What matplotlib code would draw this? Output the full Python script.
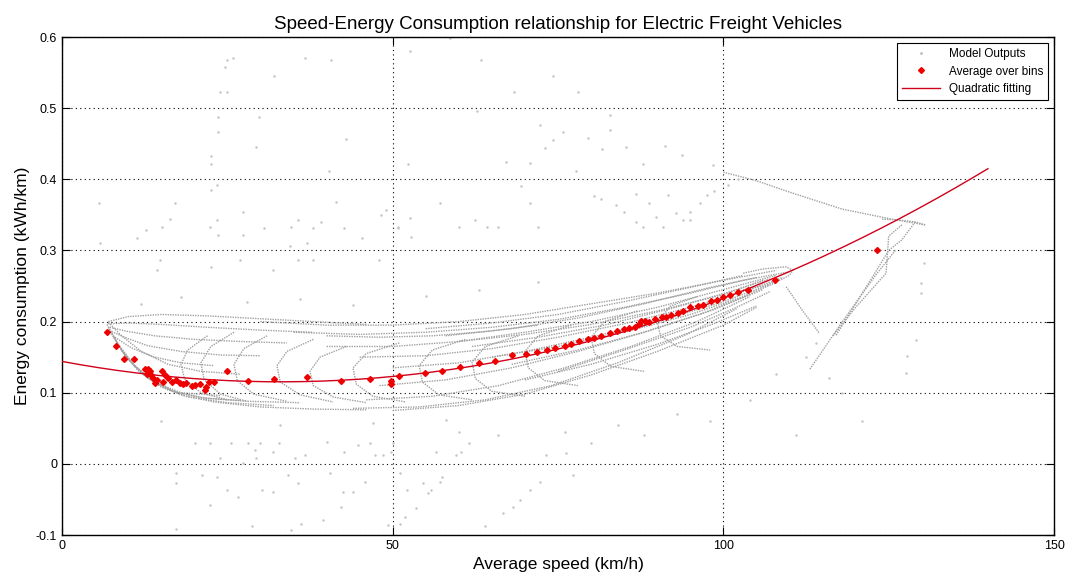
import matplotlib.pyplot as plt
import numpy as np
from matplotlib.lines import Line2D

plt.rcParams['font.family'] = ['Liberation Sans', 'DejaVu Sans']

# model output trajectories (speed km/h, energy kWh/km)
traj_speed = [
    [7, 10, 15, 22, 30, 38, 46],
    [7, 10, 15, 22, 30, 38],
    [7.2, 10, 14, 20, 27, 34],
    [7.5, 10, 13, 18, 24, 30],
    [8, 10.5, 14, 18, 23],
    [7, 9, 12, 16, 21, 27],
    [6.8, 8.5, 11, 14, 18, 23, 30, 38, 46],
    [7, 9, 11.5, 15, 19, 25, 32],
    [7.3, 9.5, 12.5, 16, 21, 27],
    [7.8, 10, 13, 17, 22, 28, 36],
    [9, 11, 14, 18, 24],
    [22, 19, 18, 18.5, 21, 25],
    [26, 22.5, 21, 21.5, 24, 28],
    [31, 27.5, 26, 26.5, 29, 34],
    [38, 34, 32.5, 33, 36, 41],
    [43, 39, 37.5, 38, 41, 46],
    [51, 46, 44, 44.5, 47, 52],
    [61, 56, 54, 54.5, 57, 62],
    [69, 64, 62, 62.5, 65, 70],
    [77, 72, 70, 70.5, 73, 78],
    [87, 82, 80, 80.5, 83, 88],
    [96, 92, 90, 90.5, 93, 98],
    [30, 40, 50, 60, 70, 80, 90, 100, 108],
    [35, 45, 55, 65, 75, 85, 95, 103, 110],
    [40, 50, 60, 70, 80, 90, 100, 108],
    [45, 55, 65, 75, 85, 95, 104, 109],
    [50, 60, 70, 80, 90, 100, 107],
    [48, 58, 68, 78, 88, 98, 106],
    [46, 56, 66, 76, 86, 96, 104],
    [44, 54, 64, 74, 84, 94, 102],
    [50, 60, 70, 80, 90, 100, 105],
    [55, 65, 75, 85, 95, 103],
    [60, 70, 80, 90, 100, 106],
    [65, 75, 85, 95, 103, 108],
    [70, 80, 90, 98, 105],
    [75, 85, 95, 102, 107],
    [58, 68, 78, 88, 98, 105],
    [62, 72, 82, 92, 101, 107],
    [68, 78, 88, 97, 104],
    [40, 48, 56, 64, 72],
    [103, 106, 109.5, 110.5, 110, 108.5, 106, 103],
    [100, 105, 110, 118, 126, 130.5],
    [124, 126.5, 129, 130.5],
    [129, 127, 125, 122.5, 120, 117],
    [127, 125, 124.6, 120, 116.5],
    [109.5, 112, 114.5],
    [126, 123, 118, 113],
]
traj_energy = [
    [0.200, 0.207, 0.210, 0.208, 0.204, 0.200, 0.196],
    [0.197, 0.198, 0.196, 0.192, 0.188, 0.185],
    [0.192, 0.186, 0.180, 0.175, 0.172, 0.170],
    [0.186, 0.176, 0.166, 0.158, 0.153, 0.152],
    [0.178, 0.163, 0.150, 0.142, 0.138],
    [0.199, 0.180, 0.158, 0.140, 0.130, 0.126],
    [0.196, 0.168, 0.138, 0.115, 0.097, 0.087, 0.080, 0.077, 0.076],
    [0.192, 0.160, 0.131, 0.108, 0.094, 0.086, 0.082],
    [0.186, 0.152, 0.124, 0.104, 0.093, 0.089],
    [0.178, 0.147, 0.120, 0.101, 0.092, 0.088, 0.086],
    [0.160, 0.137, 0.115, 0.100, 0.096],
    [0.180, 0.160, 0.140, 0.120, 0.100, 0.090],
    [0.185, 0.165, 0.142, 0.118, 0.098, 0.088],
    [0.180, 0.162, 0.140, 0.117, 0.098, 0.088],
    [0.175, 0.158, 0.138, 0.115, 0.097, 0.087],
    [0.165, 0.150, 0.130, 0.110, 0.094, 0.086],
    [0.170, 0.155, 0.135, 0.112, 0.095, 0.087],
    [0.175, 0.160, 0.138, 0.115, 0.097, 0.090],
    [0.180, 0.165, 0.143, 0.120, 0.102, 0.095],
    [0.195, 0.180, 0.158, 0.135, 0.117, 0.110],
    [0.215, 0.200, 0.178, 0.155, 0.137, 0.130],
    [0.235, 0.222, 0.200, 0.180, 0.165, 0.160],
    [0.200, 0.195, 0.195, 0.200, 0.210, 0.225, 0.240, 0.258, 0.272],
    [0.185, 0.182, 0.185, 0.192, 0.203, 0.220, 0.240, 0.258, 0.270],
    [0.165, 0.165, 0.172, 0.185, 0.200, 0.220, 0.245, 0.265],
    [0.150, 0.152, 0.162, 0.178, 0.197, 0.220, 0.245, 0.262],
    [0.135, 0.142, 0.158, 0.178, 0.200, 0.228, 0.252],
    [0.110, 0.118, 0.135, 0.158, 0.185, 0.215, 0.245],
    [0.090, 0.095, 0.110, 0.135, 0.165, 0.200, 0.235],
    [0.078, 0.080, 0.090, 0.110, 0.142, 0.180, 0.218],
    [0.075, 0.082, 0.098, 0.125, 0.158, 0.195, 0.220],
    [0.190, 0.198, 0.210, 0.228, 0.248, 0.265],
    [0.172, 0.182, 0.196, 0.215, 0.238, 0.258],
    [0.150, 0.165, 0.185, 0.210, 0.235, 0.255],
    [0.118, 0.140, 0.168, 0.195, 0.222],
    [0.130, 0.160, 0.192, 0.220, 0.242],
    [0.180, 0.190, 0.205, 0.225, 0.248, 0.262],
    [0.165, 0.178, 0.195, 0.218, 0.242, 0.260],
    [0.140, 0.160, 0.185, 0.212, 0.238],
    [0.180, 0.178, 0.180, 0.186, 0.195],
    [0.268, 0.274, 0.277, 0.272, 0.265, 0.258, 0.250, 0.245],
    [0.410, 0.398, 0.382, 0.358, 0.343, 0.336],
    [0.344, 0.343, 0.340, 0.336],
    [0.340, 0.315, 0.300, 0.262, 0.225, 0.180],
    [0.336, 0.320, 0.268, 0.220, 0.179],
    [0.249, 0.215, 0.184],
    [0.300, 0.265, 0.200, 0.132],
]

# isolated model outputs
out_speed = [25.9, 24.9, 24.6, 36.7, 40.7, 32.1, 23.9, 24.9, 23.6, 29.8, 23.6, 42.9, 29.4,
             22.5, 22.6, 40.4, 52.3, 52.6, 23.4, 22.6, 5.6, 17.1, 27.3, 41.4, 16.3, 23.4,
             35.7, 39.2, 48.3, 12.7, 15.1, 22.4, 30.5, 34.7, 38.0, 42.7, 50.8, 11.3, 5.7,
             23.6, 27.3, 34.5, 37.0, 45.3, 52.8, 14.8, 14.3, 22.6, 26.9, 31.9, 35.7, 38.0,
             48.0, 63.4, 74.2, 68.4, 78.0, 58.6, 62.7, 72.2, 75.7, 74.2, 73.0, 79.5, 82.9,
             82.9, 81.7, 85.3, 91.2, 93.8, 67.2, 70.8, 87.8, 77.7, 98.4, 100.7, 102.2, 69.4,
             57.1, 70.7, 80.5, 81.5, 83.8, 86.8, 88.8, 91.6, 85.0, 92.8, 94.9, 96.4, 97.6,
             98.6, 49.0, 52.6, 62.4, 86.8, 89.8, 93.9, 94.9, 50.8, 60.1, 64.2, 65.9, 71.9,
             87.8, 90.8,
             20.1, 22.4, 25.6, 28.1, 29.9, 32.8, 29.2, 29.4, 31.9, 23.9, 27.4, 35.2, 36.7,
             17.3, 17.3, 21.1, 23.4, 24.9, 26.6, 22.4, 30.2, 31.9, 34.2, 35.7, 28.7, 17.3,
             34.7, 36.2, 40.0, 42.7, 44.8, 46.5, 47.3, 48.5, 49.8, 50.0, 40.5, 42.5, 44.0,
             45.8, 42.2, 51.1, 56.6, 59.6, 60.4, 61.6, 52.1, 54.6, 55.3, 55.8, 57.1, 57.4,
             53.6, 51.8, 51.1, 49.3, 66.7, 68.2, 69.2, 70.7, 72.2, 64.0, 39.5, 73.2, 76.2,
             77.2,
             129.1, 127.8, 127.6, 129.9, 129.9, 130.4, 108.0, 114.0, 118.0, 121.0, 111.0,
             98.0, 104.0, 88.0, 93.0, 80.0, 84.0, 76.0, 66.0, 60.0, 112.5, 116.0,
             12.0, 18.0, 28.0, 36.0, 44.0, 55.0, 63.0, 72.0, 15.0, 33.0, 47.0, 58.0]
out_energy = [0.570, 0.568, 0.558, 0.570, 0.568, 0.545, 0.523, 0.523, 0.487, 0.487, 0.467,
              0.457, 0.446, 0.433, 0.421, 0.412, 0.421, 0.581, 0.392, 0.385, 0.367, 0.367,
              0.354, 0.368, 0.344, 0.343, 0.343, 0.340, 0.350, 0.329, 0.333, 0.333, 0.331,
              0.333, 0.332, 0.331, 0.331, 0.317, 0.310, 0.322, 0.322, 0.306, 0.310, 0.317,
              0.319, 0.287, 0.272, 0.277, 0.287, 0.272, 0.287, 0.287, 0.287, 0.568, 0.545,
              0.523, 0.523, 0.598, 0.496, 0.477, 0.466, 0.455, 0.444, 0.458, 0.490, 0.469,
              0.442, 0.445, 0.447, 0.434, 0.425, 0.423, 0.421, 0.411, 0.420, 0.392, 0.401,
              0.390, 0.366, 0.366, 0.376, 0.373, 0.364, 0.380, 0.366, 0.378, 0.354, 0.352,
              0.354, 0.366, 0.378, 0.383, 0.357, 0.345, 0.343, 0.340, 0.347, 0.343, 0.343,
              0.333, 0.333, 0.333, 0.333, 0.333, 0.333, 0.333,
              0.029, 0.029, 0.029, 0.029, 0.029, 0.029, 0.019, 0.008, 0.016, 0.008, 0.001,
              0.008, 0.013, -0.013, -0.027, -0.016, -0.018, -0.037, -0.046, -0.058, -0.037,
              -0.040, -0.016, -0.027, -0.088, -0.092, -0.093, -0.085, 0.031, 0.017, 0.026,
              0.029, 0.012, 0.012, 0.017, 0.029, -0.013, -0.039, -0.040, -0.025, -0.060,
              -0.013, 0.017, 0.012, 0.017, 0.029, -0.037, -0.027, -0.041, -0.037, -0.025,
              -0.018, -0.062, -0.074, -0.084, -0.086, -0.069, -0.060, -0.051, -0.037,
              -0.025, -0.087, -0.079, 0.012, 0.015, -0.016,
              0.174, 0.151, 0.128, 0.254, 0.240, 0.282, 0.127, 0.170, 0.100, 0.060, 0.040,
              0.060, 0.090, 0.040, 0.070, 0.030, 0.055, 0.045, 0.040, 0.045, 0.150, 0.120,
              0.225, 0.235, 0.228, 0.232, 0.224, 0.236, 0.245, 0.255, 0.060, 0.055, 0.058,
              0.062]

# averages over speed bins
avg_speed = [6.75, 8.1, 9.3, 10.9, 12.5, 13.0, 13.3, 12.8, 13.5, 13.8, 14.3, 14.0, 15.1, 15.6,
             15.3, 16.1, 16.6, 17.3, 17.8, 18.3, 18.8, 19.6, 20.1, 20.8, 21.6, 21.8, 22.2,
             23.0, 25.0, 28.1, 32.0, 37.1, 42.25, 46.5, 49.7, 49.7, 50.95, 54.9, 57.5, 60.2,
             63.0, 65.4, 68.0, 70.1, 71.8, 73.4, 74.6, 76.0, 77.0, 78.2, 79.5, 80.5, 81.5,
             82.8, 83.9, 85.0, 85.8, 86.6, 87.2, 87.6, 88.1, 88.7, 89.7, 90.7, 91.3, 92.1,
             93.1, 93.9, 95.0, 96.1, 96.9, 98.1, 99.1, 99.9, 101.0, 102.2, 103.7, 107.75,
             123.3]
avg_energy = [0.186, 0.166, 0.147, 0.147, 0.134, 0.134, 0.130, 0.126, 0.125, 0.120, 0.118,
              0.113, 0.130, 0.125, 0.115, 0.120, 0.115, 0.118, 0.114, 0.112, 0.113, 0.109,
              0.111, 0.112, 0.104, 0.108, 0.115, 0.115, 0.131, 0.116, 0.119, 0.122, 0.116,
              0.119, 0.116, 0.112, 0.123, 0.128, 0.130, 0.136, 0.142, 0.144, 0.153, 0.154,
              0.157, 0.160, 0.163, 0.166, 0.168, 0.173, 0.175, 0.177, 0.180, 0.184, 0.187,
              0.189, 0.191, 0.193, 0.197, 0.201, 0.201, 0.199, 0.203, 0.206, 0.207, 0.209,
              0.212, 0.215, 0.220, 0.222, 0.224, 0.229, 0.231, 0.234, 0.238, 0.242, 0.245,
              0.259, 0.300]

# quadratic fit coefficients (a*v^2 + b*v + c)
fit_coef = [2.62e-5, -0.001733, 0.144]
fit_range = [0, 140]

fig = plt.figure(figsize=(10.69, 5.84), dpi=100)
ax = fig.add_axes([0.058, 0.0839, 0.928, 0.8527])

gray = '#a0a0a0'
for sp, en in zip(traj_speed, traj_energy):
    ax.plot(sp, en, color=gray, lw=1.0, ls=(0, (1, 0.8)), zorder=2)
ax.plot(out_speed, out_energy, ls='none', marker='.', ms=1.5, color='#c4c4c4', zorder=2)

v = np.linspace(fit_range[0], fit_range[1], 200)
ax.plot(v, np.polyval(fit_coef, v), color='#d0001a', lw=1.0, zorder=3)
ax.plot(avg_speed, avg_energy, ls='none', marker='D', ms=3, color='#ee0000', zorder=4)

ax.set_xlim(0, 150)
ax.set_ylim(-0.1, 0.6)
ax.set_xticks([0, 50, 100, 150])
ax.set_yticks(np.arange(-0.1, 0.61, 0.1))
ax.yaxis.set_major_formatter(plt.FuncFormatter(lambda y, p: '%g' % round(y, 2)))
ax.tick_params(direction='in', top=True, right=True, labelsize=9, length=6)
ax.grid(True, color='black', ls=(0, (1, 3)), lw=0.8)
for s in ax.spines.values():
    s.set_linewidth(1.0)

ax.set_title('Speed-Energy Consumption relationship for Electric Freight Vehicles', fontsize=13.5)
ax.set_xlabel('Average speed (km/h)', fontsize=12.5)
ax.set_ylabel('Energy consumption (kWh/km)', fontsize=12.5)

handles = [
    Line2D([], [], ls='none', marker='.', ms=2, color='#bdbdbd', label='Model Outputs'),
    Line2D([], [], ls='none', marker='D', ms=3, color='#ee0000', label='Average over bins'),
    Line2D([], [], color='#d0001a', lw=1.0, label='Quadratic fitting'),
]
leg = ax.legend(handles=handles, loc='upper right', fontsize=8.5, fancybox=False,
                edgecolor='black', framealpha=1, borderaxespad=0.5, handlelength=3.2)
leg.get_frame().set_linewidth(0.8)

fig.savefig('out.png', dpi=100)
